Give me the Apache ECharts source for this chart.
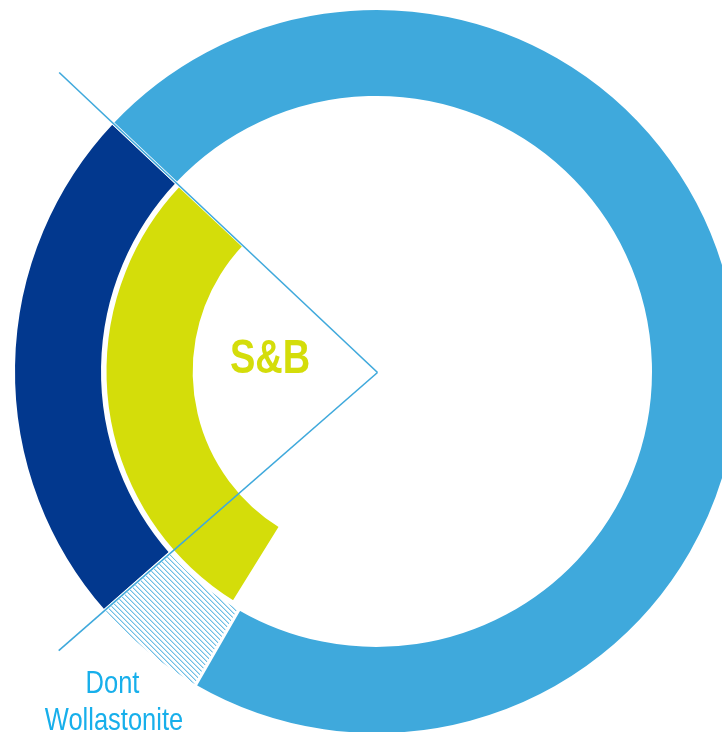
<!DOCTYPE html>
<html>
<head>
<meta charset="utf-8">
<script src="https://cdn.jsdelivr.net/npm/echarts@6/dist/echarts.min.js"></script>
<style>
html,body{margin:0;padding:0;background:#fff;}
#chart{width:722px;height:732px;}
</style>
</head>
<body>
<div id="chart"></div>
<script>
// ---- data ----
const outerCategories = ['S&B', 'Dont Wollastonite', 'Autres'];
const outerValues = [23.5, 5.2, 71.3];
const innerCategories = ['S&B', ''];
const innerValues = [28.2, 71.8];
const centerLabel = 'S&B';
const hatchLabel = ['Dont', 'Wollastonite'];

// ---- styles ----
const LIGHT = '#3FA9DC';
const DARK = '#02388E';
const YELLOW = '#D4DD0A';
const TEXTBLUE = '#17AFEB';
const CX = 376.5, CY = 371.5;
const START = 136.7;

function hatchPattern() {
  const c = document.createElement('canvas');
  const n = 5;
  c.width = n; c.height = n;
  const ctx = c.getContext('2d');
  ctx.fillStyle = '#fff';
  ctx.fillRect(0, 0, n, n);
  for (let x = 0; x < n; x++) {
    for (let y = 0; y < n; y++) {
      const d = ((x - y) % n + n) % n;
      if (d === 0) { ctx.fillStyle = 'rgba(63,169,220,0.75)'; ctx.fillRect(x, y, 1, 1); }
      else if (d === 1) { ctx.fillStyle = 'rgba(63,169,220,0.35)'; ctx.fillRect(x, y, 1, 1); }
    }
  }
  return c;
}

const outerColors = [DARK, { image: hatchPattern(), repeat: 'repeat' }, LIGHT];
const innerColors = [YELLOW, 'rgba(0,0,0,0)'];

const total = outerValues.reduce((a, b) => a + b, 0);
const boundaryAngles = [START, START + outerValues[0] / total * 360];
const lineLengths = [436, 423];

const chart = echarts.init(document.getElementById('chart'), null, { renderer: 'canvas' });

const lineGraphics = boundaryAngles.map((a, i) => {
  const r = a * Math.PI / 180;
  return {
    type: 'line',
    z: 100,
    shape: { x1: CX + 1, y1: CY + 1, x2: CX + lineLengths[i] * Math.cos(r), y2: CY - lineLengths[i] * Math.sin(r) },
    style: { stroke: LIGHT, lineWidth: 1.6 }
  };
});

chart.setOption({
  animation: false,
  backgroundColor: '#fff',
  series: [
    {
      type: 'pie',
      center: [CX, CY],
      radius: [274, 363],
      startAngle: START,
      clockwise: false,
      silent: true,
      label: { show: false },
      labelLine: { show: false },
      emphasis: { disabled: true },
      data: outerCategories.map((n, i) => ({
        name: n, value: outerValues[i],
        itemStyle: { color: outerColors[i], borderColor: '#fff', borderWidth: 3 }
      }))
    },
    {
      type: 'pie',
      center: [CX, CY],
      radius: [182.3, 271.5],
      startAngle: START,
      clockwise: false,
      silent: true,
      label: { show: false },
      labelLine: { show: false },
      emphasis: { disabled: true },
      data: innerCategories.map((n, i) => ({
        name: n, value: innerValues[i],
        itemStyle: i === 0
          ? { color: innerColors[i], borderColor: '#fff', borderWidth: 3 }
          : { color: innerColors[i], borderWidth: 0 }
      }))
    }
  ],
  graphic: lineGraphics.concat([
    {
      type: 'text', x: 270, y: 360, scaleY: 1.27, z: 110,
      style: { text: centerLabel, font: 'bold 38px "Liberation Sans", Arial, sans-serif', fill: YELLOW, textAlign: 'center', textVerticalAlign: 'middle' }
    },
    {
      type: 'text', x: 112.5, y: 684, scaleY: 1.24, z: 110,
      style: { text: hatchLabel[0], font: '25.5px "Liberation Sans", Arial, sans-serif', fill: TEXTBLUE, textAlign: 'center', textVerticalAlign: 'middle' }
    },
    {
      type: 'text', x: 114, y: 721, scaleY: 1.24, z: 110,
      style: { text: hatchLabel[1], font: '25.5px "Liberation Sans", Arial, sans-serif', fill: TEXTBLUE, textAlign: 'center', textVerticalAlign: 'middle' }
    }
  ])
});
</script>
</body>
</html>
